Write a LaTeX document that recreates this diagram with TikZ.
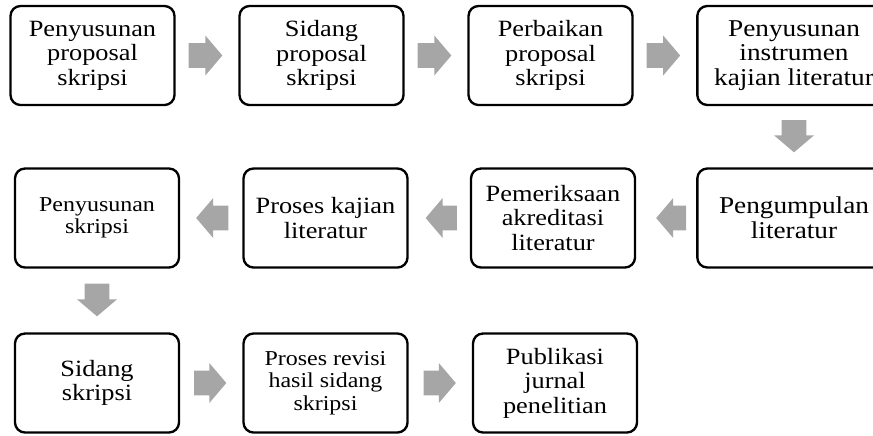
\documentclass[tikz,border=0pt]{standalone}
\usepackage{fontspec}
\setmainfont{Liberation Serif}[FakeStretch=1.13]
\usepackage{xcolor}
\usepackage{tikz}
\usetikzlibrary{arrows.meta, positioning, calc}
\definecolor{arrowgray}{RGB}{166,166,166}

\tikzset{
  tail gap/.store in=\tailgap, tail gap=0.42cm,
  tip gap/.store in=\tipgap, tip gap=0.48cm
}

\begin{document}
\begin{tikzpicture}[
  x=0.03cm, y=-0.03cm,
  box/.style={draw, line width=2pt, rounded corners=0.3cm, minimum width=4.92cm,
              minimum height=2.97cm, inner sep=2pt, align=center,
              font=\fontsize{19.9}{20.9}\selectfont},
  smallbox/.style={box, font=\fontsize{18.1}{19}\selectfont},
  widebox/.style={box, minimum width=5.8cm, font=\fontsize{20.6}{21.2}\selectfont},
  flow/.style={fill=arrowgray, to path={
      ($(\tikztostart)!\tailgap!(\tikztotarget)$) coordinate (fs)
      ($(\tikztotarget)!\tipgap!(\tikztostart)$) coordinate (ft)
      ($(ft)!0.51cm!(fs)$) coordinate (fh)
      ($(fs)!0.37cm!90:(ft)$) -- ($(fh)!0.37cm!-90:(fs)$)
      -- ($(fh)!0.6cm!-90:(fs)$) -- (ft) -- ($(fh)!0.6cm!90:(fs)$)
      -- ($(fh)!0.37cm!90:(fs)$) -- ($(fs)!0.37cm!-90:(ft)$) -- cycle}}
]
  \clip (0,0) rectangle (873,435);

  %--- Row 1 ---
  \node[box]     (pp) at (92.5, 55.5) {Penyusunan\\proposal\\skripsi};
  \node[box]     (sp) at (321.5, 55.5) {Sidang\\proposal\\skripsi};
  \node[box]     (pb) at (550.5, 55.5) {Perbaikan\\proposal\\skripsi};
  \node[widebox] (pi) at (794, 55.5) {Penyusunan\\instrumen\\kajian literatur};
  \path[flow, tail gap=0.39cm] (pp.east) to (sp.west);
  \path[flow, tail gap=0.39cm] (sp.east) to (pb.west);
  \path[flow, tail gap=0.39cm] (pb.east) to (pi.west);

  %--- Row 2 ---
  \node[widebox]  (pl) at (794, 218) {Pengumpulan\\literatur};
  \node[box]      (pa) at (553, 218) {Pemeriksaan\\akreditasi\\literatur};
  \node[box]      (pk) at (325.5, 218) {Proses kajian\\literatur};
  \node[smallbox] (ps) at (97, 218) {Penyusunan\\skripsi};
  \path[flow, tip gap=0.45cm] (pi.south) to (pl.north);
  \path[flow, tail gap=0.3cm, tip gap=0.6cm] (pl.west) to (pa.east);
  \path[flow, tail gap=0.39cm, tip gap=0.51cm] (pa.west) to (pk.east);
  \path[flow] (pk.west) to (ps.east);

  %--- Row 3 ---
  \node[box]      (ss) at (97, 383) {Sidang\\skripsi};
  \node[smallbox] (pr) at (325.5, 383) {Proses revisi\\hasil sidang\\skripsi};
  \node[box]      (pj) at (555, 383) {Publikasi\\jurnal\\penelitian};
  \path[flow, tail gap=0.45cm] (ps.south) to (ss.north);
  \path[flow] (ss.east) to (pr.west);
  \path[flow, tail gap=0.45cm] (pr.east) to (pj.west);

\end{tikzpicture}
\end{document}
